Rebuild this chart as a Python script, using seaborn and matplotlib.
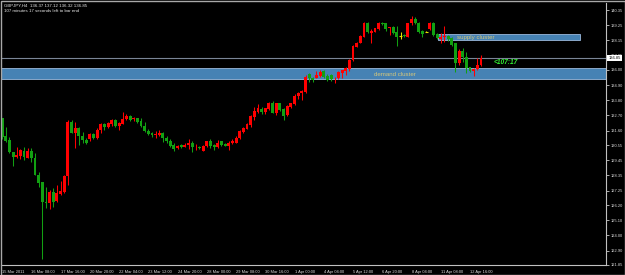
import numpy as np
import pandas as pd
import matplotlib
matplotlib.use("Agg")
import matplotlib.pyplot as plt
import matplotlib.transforms as mtransforms
from matplotlib.patches import Rectangle
import seaborn as sns

# ---------------- data ----------------
symbol = "GBPJPY,H4"
timer_text = "107 minutes 17 seconds left to bar end"
countdown = "<107:17"

opens = [
    132.50, 131.21, 130.92, 130.07, 129.72, 129.77, 130.15, 129.64, 130.12, 129.64,
    128.38, 127.85, 126.45, 126.38, 127.11, 126.50, 126.99, 127.17, 128.31, 132.25,
    131.46, 131.76, 131.21, 130.92, 130.99, 131.34, 131.09, 131.65, 132.06, 131.89,
    132.06, 132.38, 131.96, 132.08, 132.43, 132.67, 132.43, 132.50, 132.30, 131.94,
    131.58, 131.41, 131.26, 131.29, 131.41, 131.04, 130.87, 130.56, 130.32, 130.54,
    130.44, 130.54, 130.73, 130.39, 130.44, 130.15, 130.49, 130.86, 130.56, 130.44,
    130.81, 130.61, 130.49, 130.68, 130.73, 131.09, 131.53, 131.73, 132.01, 132.61,
    132.98, 133.17, 132.93, 133.15, 133.63, 132.90, 133.58, 133.15, 132.73, 133.34,
    133.54, 134.11, 134.31, 134.42, 135.68, 135.45, 135.45, 135.56, 135.93, 135.56,
    135.63, 135.40, 135.40, 135.79, 135.95, 136.05, 136.72, 137.69, 137.98, 138.42,
    139.43, 138.71, 138.78, 138.95, 139.43, 139.38, 139.02, 139.09, 138.73, 138.49,
    138.54, 138.42, 139.38, 139.67, 139.43, 138.85, 138.78, 138.95, 139.43, 138.61,
    138.22, 138.37, 138.46, 138.30, 137.93, 136.48, 137.40, 136.97, 136.19, 135.95,
    136.05, 136.37]

highs = [
    132.54, 131.89, 131.16, 130.07, 130.44, 130.25, 130.39, 130.32, 130.32, 129.95,
    128.63, 127.90, 127.54, 127.29, 127.42, 127.66, 127.98, 128.38, 132.38, 132.38,
    132.20, 131.84, 131.53, 131.04, 131.41, 131.46, 131.76, 132.18, 132.18, 132.25,
    132.45, 132.43, 132.25, 132.93, 132.78, 132.74, 132.62, 132.55, 132.50, 132.25,
    131.70, 131.53, 131.60, 131.65, 131.48, 131.21, 130.97, 130.68, 130.56, 130.61,
    130.68, 130.99, 130.81, 130.64, 130.49, 130.56, 130.86, 131.00, 130.61, 130.93,
    130.86, 130.68, 130.81, 130.97, 131.21, 131.65, 131.89, 132.13, 132.73, 133.34,
    133.54, 133.34, 133.27, 133.70, 133.77, 133.63, 133.63, 133.22, 133.47, 133.63,
    134.24, 134.42, 134.54, 135.63, 135.76, 135.52, 135.95, 136.00, 136.00, 135.68,
    135.68, 135.50, 135.93, 136.02, 136.24, 136.77, 137.81, 138.06, 138.56, 139.51,
    139.51, 138.95, 139.07, 139.51, 139.48, 139.43, 139.14, 139.19, 139.19, 138.73,
    138.59, 139.43, 139.91, 139.87, 139.50, 138.90, 138.83, 139.50, 139.48, 138.66,
    138.66, 139.19, 138.51, 138.37, 137.93, 137.50, 137.57, 137.33, 136.24, 136.12,
    136.85, 137.12]

lows = [
    130.97, 130.80, 129.95, 129.03, 129.59, 129.52, 129.47, 129.59, 129.35, 128.35,
    127.54, 122.27, 125.97, 125.90, 126.09, 126.45, 126.94, 127.06, 127.66, 131.41,
    130.37, 130.56, 130.73, 130.61, 130.85, 130.99, 130.99, 131.46, 131.65, 131.76,
    131.94, 131.89, 131.65, 132.06, 132.38, 132.33, 132.33, 132.18, 131.89, 131.53,
    131.29, 131.16, 131.04, 131.21, 130.80, 130.73, 130.44, 130.12, 130.25, 130.32,
    130.39, 130.25, 130.07, 130.20, 130.24, 130.15, 130.44, 130.32, 130.20, 130.32,
    130.49, 130.49, 130.20, 130.61, 130.68, 130.97, 131.46, 131.70, 131.84, 132.37,
    132.85, 132.81, 132.78, 133.10, 132.85, 132.73, 133.05, 132.37, 132.66, 133.27,
    133.47, 133.87, 133.82, 134.31, 135.16, 135.16, 135.40, 135.51, 135.45, 135.18,
    135.23, 135.08, 135.33, 135.45, 135.64, 135.95, 136.68, 137.64, 137.93, 138.37,
    138.66, 137.98, 138.73, 138.90, 139.28, 138.85, 138.54, 138.61, 137.74, 138.22,
    138.42, 138.37, 139.26, 139.33, 138.71, 138.42, 138.73, 138.90, 138.46, 138.22,
    137.93, 138.05, 138.13, 137.74, 135.88, 136.36, 136.60, 135.76, 135.88, 135.56,
    136.00, 136.32]

closes = [
    131.16, 130.87, 130.07, 129.72, 129.84, 130.20, 129.72, 130.12, 129.64, 128.38,
    127.83, 126.45, 126.38, 127.11, 126.45, 127.06, 127.22, 128.31, 132.25, 131.46,
    131.76, 131.21, 130.92, 130.73, 131.34, 131.09, 131.65, 132.06, 131.84, 132.18,
    132.38, 131.96, 132.13, 132.43, 132.67, 132.38, 132.55, 132.25, 131.94, 131.58,
    131.36, 131.29, 131.34, 131.46, 131.04, 130.87, 130.49, 130.27, 130.51, 130.39,
    130.59, 130.73, 130.39, 130.44, 130.32, 130.49, 130.86, 130.49, 130.44, 130.68,
    130.56, 130.49, 130.73, 130.86, 131.09, 131.60, 131.81, 132.08, 132.66, 133.02,
    133.27, 132.98, 133.22, 133.63, 132.90, 133.58, 133.10, 132.66, 133.39, 133.58,
    134.11, 134.36, 134.47, 135.51, 135.40, 135.28, 135.63, 135.88, 135.51, 135.28,
    135.35, 135.45, 135.88, 135.98, 136.17, 136.72, 137.74, 137.98, 138.49, 139.43,
    138.78, 138.83, 139.02, 139.43, 139.33, 138.95, 139.09, 138.71, 138.42, 138.49,
    138.46, 139.38, 139.67, 139.43, 138.78, 138.61, 138.78, 139.43, 138.54, 138.30,
    138.42, 138.49, 138.22, 137.81, 136.48, 137.40, 136.97, 136.12, 135.95, 136.07,
    136.36, 136.85]

x_tick_labels = ["15 Mar 2011", "16 Mar 08:00", "17 Mar 16:00", "20 Mar 20:00",
                 "22 Mar 04:00", "23 Mar 12:00", "24 Mar 20:00", "28 Mar 00:00",
                 "29 Mar 08:00", "30 Mar 16:00", "1 Apr 00:00", "4 Apr 04:00",
                 "5 Apr 12:00", "6 Apr 20:00", "8 Apr 04:00", "11 Apr 08:00",
                 "12 Apr 16:00"]
bars_per_label = 8

y_tick_labels = ["140.35", "139.25", "138.15", "137.05", "136.00", "134.90",
                 "133.80", "132.70", "131.60", "130.55", "129.45", "128.35",
                 "127.25", "126.20", "125.10", "124.00", "122.90", "121.85"]

supply_zone = (138.17, 138.61)
demand_zone = (135.37, 136.15)
zone_labels = ["supply cluster", "demand cluster"]

# ---------------- styling ----------------
sns.set_theme(style="dark", rc={"axes.facecolor": "black",
                                "figure.facecolor": "black",
                                "axes.grid": False})
plt.rcParams["font.family"] = ["Liberation Sans", "DejaVu Sans"]

BULL = "#FF0000"
BEAR = "#12A012"
DOJI = "#E8E000"

df = pd.DataFrame({"open": opens, "high": highs, "low": lows, "close": closes})
df["idx"] = np.arange(len(df))
df["kind"] = np.where(df["close"] > df["open"], "bull",
                      np.where(df["close"] < df["open"], "bear", "doji"))
palette = {"bull": BULL, "bear": BEAR, "doji": DOJI}
df["color"] = df["kind"].map(palette)

W, H = 625, 275
fig = plt.figure(figsize=(W / 100, H / 100), dpi=100)
ax = fig.add_axes([1 / W, (H - 265) / H, 605 / W, 262 / H])
ax.set_facecolor("black")

x0, x1 = -0.3, 165.2
y_bottom = float(y_tick_labels[-1])
y_top = 140.858
ax.set_xlim(x0, x1)
ax.set_ylim(y_bottom, y_top)

# zones
ax.add_patch(Rectangle((x0, demand_zone[0]), x1 - x0, demand_zone[1] - demand_zone[0],
                       facecolor="#4682B4", edgecolor="#9BB9DC", lw=0.6, zorder=0.5))
ax.add_patch(Rectangle((119.2, supply_zone[0]), 158.1 - 119.2, supply_zone[1] - supply_zone[0],
                       facecolor="#4682B4", edgecolor="#9BB9DC", lw=0.6, zorder=0.5))

# bid line
bid = closes[-1]
ax.axhline(bid, color="#7A8596", lw=0.8, zorder=1)

# candles: wicks, bodies, dojis
ax.vlines(df["idx"], df["low"], df["high"], colors=df["color"], linewidth=0.75, zorder=2)
body = df[df["kind"] != "doji"]
ax.bar(body["idx"], (body["close"] - body["open"]).abs(),
       bottom=np.minimum(body["open"], body["close"]),
       width=0.8, color=body["color"], linewidth=0, zorder=3)
dj = df[df["kind"] == "doji"]
ax.hlines(dj["close"], dj["idx"] - 0.45, dj["idx"] + 0.45, colors=DOJI, linewidth=0.8, zorder=3)

# zone labels and countdown
ax.text(124.4, (supply_zone[0] + supply_zone[1]) / 2, zone_labels[0], color="#D6C77A",
        fontsize=4.4, ha="left", va="center", zorder=5)
ax.text(101.6, 135.69, zone_labels[1], color="#D6C77A",
        fontsize=4.4, ha="left", va="center", zorder=5)
ax.text(134.5, 136.56, countdown, color="#33EE33", fontsize=4.8, fontweight="bold",
        fontstyle="italic", ha="left", va="center", zorder=5)

# axes / ticks
ax.yaxis.tick_right()
ax.set_yticks([float(v) for v in y_tick_labels])
ax.set_yticklabels(y_tick_labels)
ax.set_xticks(np.arange(len(x_tick_labels)) * bars_per_label)
ax.set_xticklabels(x_tick_labels)
plt.setp(ax.get_xticklabels(), ha="left")
ax.tick_params(axis="both", length=2, width=0.6, color="#C8C8C8",
               labelcolor="#DCDCDC", labelsize=2.9, pad=1.2, direction="out")
ax.tick_params(axis="x", pad=1.6)
ax.tick_params(axis="y", right=True, left=False)
for s in ["top", "left"]:
    ax.spines[s].set_visible(False)
for s in ["right", "bottom"]:
    ax.spines[s].set_visible(True)
    ax.spines[s].set_color("#C0C0C0")
    ax.spines[s].set_linewidth(0.8)

# current price box
trans = mtransforms.blended_transform_factory(ax.transAxes, ax.transData)
ax.text(1.0 + 2.5 / 605, bid, f"{bid:.2f}", transform=trans, ha="left", va="center",
        fontsize=2.9, color="black", zorder=10, clip_on=False,
        bbox=dict(boxstyle="square,pad=0.3", fc="white", ec="white", lw=0))

# header
fig.text(4 / W, 1 - 5.5 / H,
         f"{symbol}  {opens[-1]:.2f} {highs[-1]:.2f} {lows[-1]:.2f} {closes[-1]:.2f}",
         color="#E6E6E6", fontsize=3.2, ha="left", va="center")
fig.text(4 / W, 1 - 10.5 / H, timer_text, color="#E6E6E6", fontsize=3.2,
         ha="left", va="center")

# window frame
fig.add_artist(Rectangle((0.5 / W, 0.5 / H), (W - 1) / W, (H - 1) / H,
                         transform=fig.transFigure, fill=False,
                         edgecolor="#A8A8A8", lw=1.0))

fig.savefig("out.png", dpi=100, facecolor="black")
